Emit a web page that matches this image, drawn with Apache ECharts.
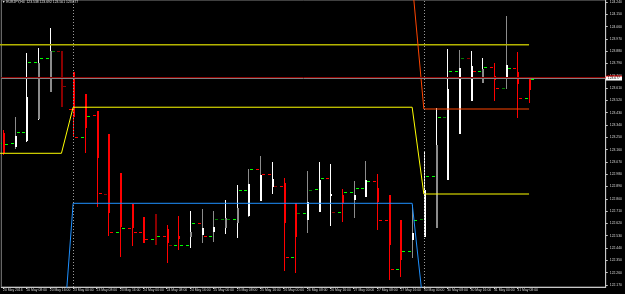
<!DOCTYPE html>
<html><head><meta charset="utf-8">
<script src="https://cdn.jsdelivr.net/npm/echarts@6/dist/echarts.min.js"></script>
<style>html,body{margin:0;padding:0;background:#000;}#c{width:625px;height:294px;}</style>
</head><body><div id="c"></div>
<script>
// ---- data ----
const symbolTitle = 'EURJPY,H4';
const lastOHLC = ['123.538', '123.692', '123.501', '123.677'];
const timeLabels = ['20 May 2016','20 May 08:00','20 May 16:00','23 May 00:00','23 May 08:00','23 May 16:00','24 May 00:00','24 May 08:00','24 May 16:00','25 May 00:00','25 May 08:00','25 May 16:00','26 May 00:00','26 May 08:00','26 May 16:00','27 May 00:00','27 May 08:00','27 May 16:00','30 May 00:00','30 May 08:00','30 May 16:00','31 May 00:00','31 May 08:00'];
const timeLabelBars = [0,2,4,6,8,10,12,14,16,18,20,22,24,26,28,30,32,34,36,38,40,42,44];
const priceTicks = [124.240,124.150,124.060,123.970,123.880,123.790,123.700,123.610,123.520,123.430,123.340,123.250,123.160,123.070,122.980,122.890,122.800,122.710,122.620,122.530,122.440,122.350,122.260,122.170];

const barHigh = [123.304,123.399,123.867,123.904,124.050,123.882,123.728,123.567,123.443,123.275,122.989,122.762,122.667,122.689,122.609,122.675,122.711,122.726,122.711,122.792,122.901,123.018,123.114,123.070,122.953,122.770,123.004,123.070,123.055,122.872,122.931,123.077,122.982,122.828,122.645,122.755,123.143,123.465,123.896,123.889,123.882,123.831,123.794,124.138,123.874,123.692];
const barLow = [123.121,123.165,123.216,123.377,123.582,123.472,123.253,123.136,122.740,122.528,122.375,122.455,122.477,122.462,122.331,122.426,122.440,122.477,122.484,122.543,122.514,122.667,122.784,122.836,122.272,122.257,122.550,122.704,122.601,122.631,122.660,122.814,122.572,122.206,122.228,122.367,122.521,122.587,122.938,123.275,123.516,123.648,123.516,123.604,123.392,123.501];
const bodyTop = [123.282,123.260,123.545,123.794,123.882,123.882,123.728,123.567,123.443,123.275,122.989,122.762,122.667,122.689,122.579,122.528,122.557,122.587,122.594,122.660,122.733,122.909,122.975,122.945,122.916,122.770,122.777,122.938,122.836,122.828,122.828,122.938,122.879,122.828,122.645,122.550,122.865,123.194,123.604,123.757,123.772,123.750,123.699,123.779,123.728,123.692];
const bodyBottom = [123.136,123.179,123.223,123.384,123.582,123.472,123.399,123.318,123.099,122.697,122.594,122.587,122.477,122.462,122.477,122.506,122.521,122.536,122.557,122.587,122.623,122.675,122.784,122.887,122.623,122.521,122.645,122.704,122.821,122.770,122.792,122.814,122.777,122.462,122.353,122.499,122.521,122.587,122.938,123.275,123.516,123.648,123.670,123.692,123.640,123.596];
const barOpen = [123.209,123.209,123.289,123.801,123.831,123.882,123.457,123.253,123.414,122.836,122.557,122.587,122.557,122.506,122.528,122.462,122.462,122.623,122.528,122.653,122.653,122.865,123.018,122.982,122.894,122.375,122.697,122.872,122.953,122.704,122.850,122.879,122.931,122.645,122.287,122.418,122.653,122.967,123.399,123.735,123.831,123.735,123.765,123.611,123.757,123.538];
const barClose = [123.201,123.289,123.801,123.831,123.882,123.626,123.253,123.406,122.843,122.557,122.587,122.557,122.506,122.528,122.462,122.462,122.623,122.528,122.653,122.653,122.865,123.018,122.982,122.894,122.375,122.697,122.865,122.953,122.704,122.850,122.879,122.931,122.645,122.287,122.418,122.645,122.967,123.399,123.735,123.831,123.735,123.765,123.611,123.757,123.538,123.677];
// state codes per bar: R strong down, D weak down, W strong up, G weak up
const wickState = ['R','G','W','W','W','D','R','R','R','R','R','R','R','D','R','R','W','G','G','W','W','G','G','W','R','R','G','W','W','R','G','G','R','R','R','G','W','W','W','G','W','W','R','G','R','R'];
const bodyState = ['R','W','W','G','G','D','R','R','R','R','R','R','R','D','R','R','G','W','W','G','G','W','W','W','R','R','W','W','W','R','W','W','R','R','R','W','W','G','W','W','W','G','R','W','R','R'];
// tick state codes: U up, u weak up, R down, r weak down
const openState = ['U','U','U','U','U','r','R','U','R','r','U','R','R','U','R','U','U','R','U','u','U','U','R','R','R','U','U','U','R','U','U','U','R','R','U','U','u','U','u','U','r','U','R','u','R','U'];
const closeState = ['U','U','U','U','u','r','R','U','R','R','U','R','R','U','r','U','U','R','u','u','U','U','R','r','R','u','u','U','r','U','U','U','R','R','U','U','U','U','U','u','R','U','R','U','R','U'];

const levelBars = [-1, 45];
const levelVals = [123.928, 123.928];
const yellowBars = [-1, 5, 6, 35, 36, 45];
const yellowVals = [123.133, 123.133, 123.470, 123.470, 122.835, 122.835];
const blueBars = [5, 6, 35, 36, 45];
const blueVals = [121.620, 122.767, 122.767, 121.980, 121.980];
const orangeBars = [35, 36, 45];
const orangeVals = [124.390, 123.457, 123.457];
const separatorBars = [6, 36];
const askPrice = 123.690;
const bidPrice = 123.677;

// ---- styles ----
const barColors = { R: '#ff0000', D: '#8b0000', W: '#ffffff', G: '#8c8c8c' };
const tickColors = { U: '#00ff00', u: '#008000', R: '#ff0000', r: '#8b0000' };
const FONT = 'Liberation Sans';
const FS = 3.4;

const barData = barHigh.map((h, i) => [i, h, barLow[i], bodyTop[i], bodyBottom[i], barOpen[i], barClose[i]]);
const pairs = (xs, ys) => xs.map((x, i) => [x, ys[i]]);

function renderBar(params, api) {
  const i = params.dataIndex;
  const idx = api.value(0);
  const pH = api.coord([idx, api.value(1)]);
  const pL = api.coord([idx, api.value(2)]);
  const pT = api.coord([idx, api.value(3)]);
  const pB = api.coord([idx, api.value(4)]);
  const pO = api.coord([idx, api.value(5)]);
  const pC = api.coord([idx, api.value(6)]);
  const xi = Math.round(pH[0]);
  const r = v => Math.round(v) + 0.5;
  return {
    type: 'group',
    children: [
      { type: 'line', shape: { x1: xi + 0.5, y1: Math.round(pH[1]), x2: xi + 0.5, y2: Math.round(pL[1]) },
        style: { stroke: barColors[wickState[i]], lineWidth: 1 } },
      { type: 'rect', shape: { x: xi, y: Math.round(pT[1]), width: 2, height: Math.max(1, Math.round(pB[1]) - Math.round(pT[1])) },
        style: { fill: barColors[bodyState[i]] } },
      { type: 'line', shape: { x1: xi - 4, y1: r(pO[1]), x2: xi - 1, y2: r(pO[1]) },
        style: { stroke: tickColors[openState[i]], lineWidth: 1 } },
      { type: 'line', shape: { x1: xi + 2, y1: r(pC[1]), x2: xi + 5, y2: r(pC[1]) },
        style: { stroke: tickColors[closeState[i]], lineWidth: 1 } }
    ]
  };
}

const chart = echarts.init(document.getElementById('c'), null, { renderer: 'canvas' });
chart.setOption({
  backgroundColor: '#000000',
  animation: false,
  title: {
    text: '\u25BC ' + symbolTitle + '  ' + lastOHLC.join(' '),
    left: 2, top: 1, padding: 0,
    textStyle: { color: '#e0e0e0', fontSize: FS, fontWeight: 'normal', fontFamily: FONT }
  },
  grid: { left: 0, right: 18, top: 0, bottom: 7, show: true, borderColor: '#808080', borderWidth: 1, backgroundColor: '#000' },
  xAxis: {
    type: 'value', min: -0.145, max: 51.56,
    axisLine: { show: true, onZero: false, lineStyle: { color: '#c8c8c8', width: 1 } },
    axisTick: { show: true, customValues: timeLabelBars, length: 2, lineStyle: { color: '#c8c8c8' } },
    splitLine: { show: false },
    axisLabel: {
      customValues: timeLabelBars, align: 'left', margin: 1.5,
      color: '#d8d8d8', fontSize: FS, fontFamily: FONT,
      formatter: v => timeLabels[timeLabelBars.indexOf(Math.round(v))] || ''
    }
  },
  yAxis: {
    type: 'value', position: 'right', min: 122.1546, max: 124.2546,
    axisLine: { show: true, onZero: false, lineStyle: { color: '#c8c8c8', width: 1 } },
    axisTick: { show: true, customValues: priceTicks, length: 2, lineStyle: { color: '#c8c8c8' } },
    splitLine: { show: false },
    axisLabel: {
      customValues: priceTicks, margin: 4, align: 'left',
      color: '#d8d8d8', fontSize: FS, fontFamily: FONT,
      formatter: v => v.toFixed(3)
    }
  },
  series: [
    {
      type: 'line', data: pairs(levelBars, levelVals), symbol: 'none', clip: true, silent: true,
      lineStyle: { color: '#b4b400', width: 1.5 },
      markLine: {
        symbol: 'none', silent: true, animation: false,
        data: [
          { xAxis: separatorBars[0], lineStyle: { color: '#9a9a9a', type: [1, 2], width: 1 }, label: { show: false } },
          { xAxis: separatorBars[1], lineStyle: { color: '#9a9a9a', type: [1, 2], width: 1 }, label: { show: false } },
          { yAxis: askPrice, lineStyle: { color: '#8b0000', type: 'solid', width: 1 },
            label: { show: true, position: 'end', distance: 0, formatter: askPrice.toFixed(3), color: '#ff0000', backgroundColor: '#ff0000', fontSize: FS, fontFamily: FONT, padding: [0, 2] } },
          { yAxis: bidPrice, lineStyle: { color: '#808080', type: 'solid', width: 1 },
            label: { show: true, position: 'end', distance: 0, formatter: bidPrice.toFixed(3), color: '#000000', backgroundColor: '#ffffff', fontSize: FS, fontFamily: FONT, padding: [0.5, 2] } }
        ]
      }
    },
    { type: 'line', data: pairs(yellowBars, yellowVals), symbol: 'none', clip: true, silent: true, lineStyle: { color: '#ffff00', width: 1 } },
    { type: 'line', data: pairs(blueBars, blueVals), symbol: 'none', clip: true, silent: true, lineStyle: { color: '#1e90ff', width: 1 } },
    { type: 'line', data: pairs(orangeBars, orangeVals), symbol: 'none', clip: true, silent: true, lineStyle: { color: '#ff4500', width: 1 } },
    { type: 'custom', data: barData, renderItem: renderBar, clip: true, silent: true, encode: { x: 0, y: [1, 2] } }
  ]
});
</script></body></html>
